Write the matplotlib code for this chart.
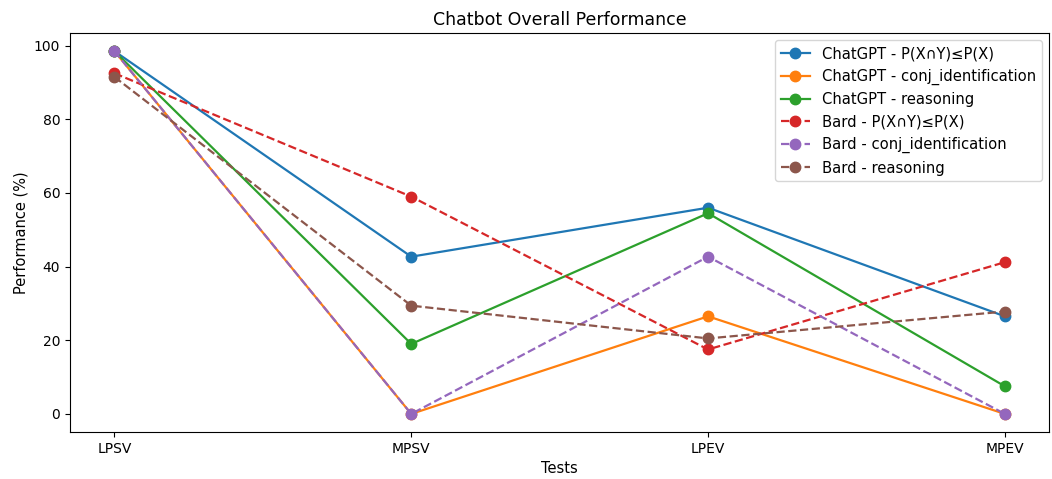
import matplotlib.pyplot as plt

tests = ['LPSV', 'MPSV', 'LPEV', 'MPEV']

chatgpt_prob = [98.5, 42.7, 56.0, 26.5]
chatgpt_conj = [98.5, 0.0, 26.5, 0.0]
chatgpt_reason = [98.5, 19.0, 54.5, 7.5]
bard_prob = [92.5, 59.0, 17.5, 41.2]
bard_conj = [98.5, 0.0, 42.7, 0.0]
bard_reason = [91.5, 29.4, 20.5, 27.8]

series = [
    ('ChatGPT - P(X∩Y)≤P(X)', chatgpt_prob, '-', 'C0'),
    ('ChatGPT - conj_identification', chatgpt_conj, '-', 'C1'),
    ('ChatGPT - reasoning', chatgpt_reason, '-', 'C2'),
    ('Bard - P(X∩Y)≤P(X)', bard_prob, '--', 'C3'),
    ('Bard - conj_identification', bard_conj, '--', 'C4'),
    ('Bard - reasoning', bard_reason, '--', 'C5'),
]

fig = plt.figure(figsize=(10.52, 4.79), dpi=100)
ax = fig.add_axes([0.0665, 0.098, 0.931, 0.833])

for label, vals, ls, col in series:
    ax.plot(tests, vals, linestyle=ls, color=col, marker='o', markersize=7.5,
            linewidth=1.6, label=label)

ax.set_title('Chatbot Overall Performance', fontsize=12.5)
ax.set_xlabel('Tests', fontsize=10.5)
ax.set_ylabel('Performance (%)', fontsize=10.5)
ax.tick_params(labelsize=10)
ax.legend(loc='upper right', fontsize=10.6)

fig.savefig('out.png', dpi=100)
